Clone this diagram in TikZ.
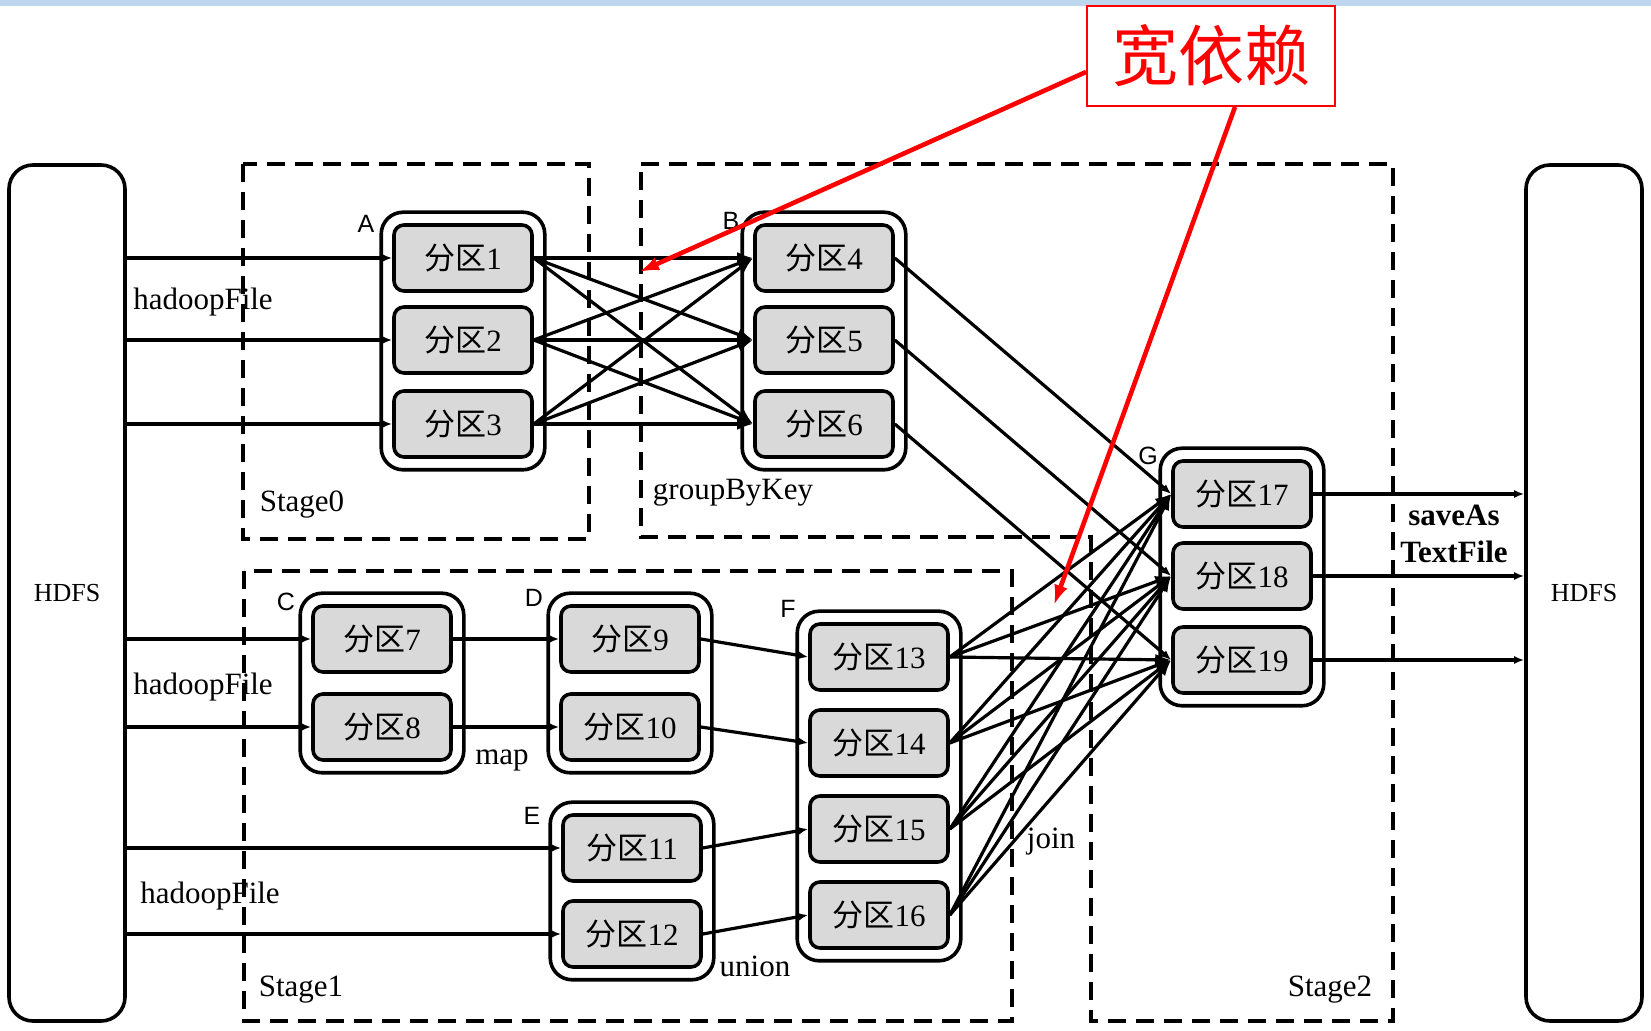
\documentclass[tikz,border=0pt]{standalone}
\usepackage{fontspec}
\setmainfont{Liberation Serif}
\newfontfamily\cjk{Noto Sans CJK SC}
\newfontfamily\lettre{Liberation Sans}
\usetikzlibrary{positioning,arrows.meta,fit,backgrounds}
\definecolor{grisPart}{HTML}{D9D9D9}
\definecolor{bleuBande}{HTML}{BDD7EE}
\definecolor{rougeVif}{HTML}{FF0000}
\newcommand{\fq}[1]{{\cjk 分区}#1}
\tikzset{
  partition/.style={
    draw, line width=1.8pt, rounded corners=5pt, fill=grisPart,
    minimum width=69pt, minimum height=33pt, inner sep=0pt,
    font=\fontsize{15.5}{18}\selectfont},
  rdd/.style={draw, line width=1.8pt, rounded corners=11pt, fill=white, inner sep=5.5pt},
  hdfs/.style={draw, line width=1.8pt, rounded corners=12pt,
    minimum width=58pt, minimum height=428pt, font=\fontsize{13}{15}\selectfont},
  stage/.style={draw, line width=1.9pt, dash pattern=on 9pt off 5pt},
  fleche/.style={-{Latex[length=5pt,width=4pt]}, line width=1.6pt},
  flecheLarge/.style={-{Latex[length=8pt,width=6pt]}, line width=1.6pt},
  alerte/.style={-{Latex[length=10pt,width=7pt]}, draw=rougeVif, line width=2.3pt},
  etiquette/.style={font=\fontsize{15.5}{18.5}\selectfont},
  lettreRdd/.style={font=\lettre\fontsize{12.5}{14}\selectfont}
}

\begin{document}
\begin{tikzpicture}[x=0.5pt, y=-0.5pt]
  \useasboundingbox (0,0) rectangle (1651,1031);
  \fill[bleuBande] (0,0) rectangle (1651,6);

  % --- HDFS des deux cotes
  \node[hdfs] (hdfsG) at (67,593)   {HDFS};
  \node[hdfs] (hdfsD) at (1584,593) {HDFS};

  % --- Stages (pointilles)
  \draw[stage] (243,164) rectangle (589,539);
  \draw[stage] (244,571) rectangle (1012,1021);
  \draw[stage] (641,164) -- (1393,164) -- (1393,1021) -- (1091,1021)
        -- (1091,537) -- (641,537) -- cycle;

  % --- Partitions
  \node[partition] (p1)  at (463,258) {\fq{1}};
  \node[partition] (p2)  at (463,340) {\fq{2}};
  \node[partition] (p3)  at (463,424) {\fq{3}};
  \node[partition] (p4)  at (824,258) {\fq{4}};
  \node[partition] (p5)  at (824,340) {\fq{5}};
  \node[partition] (p6)  at (824,424) {\fq{6}};
  \node[partition] (p7)  at (382,639) {\fq{7}};
  \node[partition] (p8)  at (382,727) {\fq{8}};
  \node[partition] (p9)  at (630,639) {\fq{9}};
  \node[partition] (p10) at (630,727) {\fq{10}};
  \node[partition] (p11) at (632,848) {\fq{11}};
  \node[partition] (p12) at (632,934) {\fq{12}};
  \node[partition] (p13) at (879,657) {\fq{13}};
  \node[partition] (p14) at (879,743) {\fq{14}};
  \node[partition] (p15) at (879,829) {\fq{15}};
  \node[partition] (p16) at (879,915) {\fq{16}};
  \node[partition] (p17) at (1242,494) {\fq{17}};
  \node[partition] (p18) at (1242,576) {\fq{18}};
  \node[partition] (p19) at (1242,660) {\fq{19}};

  % --- RDD englobants
  \begin{scope}[on background layer]
    \node[rdd, fit=(p1)(p3)]   (A) {};
    \node[rdd, fit=(p4)(p6)]   (B) {};
    \node[rdd, fit=(p7)(p8)]   (C) {};
    \node[rdd, fit=(p9)(p10)]  (D) {};
    \node[rdd, fit=(p11)(p12)] (E) {};
    \node[rdd, fit=(p13)(p16)] (F) {};
    \node[rdd, fit=(p17)(p19)] (G) {};
  \end{scope}
  \node[lettreRdd] (lA) at (366,224)  {A};
  \node[lettreRdd] (lB) at (731,221)  {B};
  \node[lettreRdd] (lC) at (286,602)  {C};
  \node[lettreRdd] (lD) at (534,598)  {D};
  \node[lettreRdd] (lE) at (532,816)  {E};
  \node[lettreRdd] (lF) at (788,609)  {F};
  \node[lettreRdd] (lG) at (1148,456) {G};

  % --- Lecture depuis HDFS
  \foreach \p in {p1,p2,p3,p7,p8,p11,p12}
    \draw[fleche] (hdfsG.east |- \p.west) -- (\p.west);

  % --- Dependances etroites
  \draw[fleche] (p7) -- (p9);
  \draw[fleche] (p8) -- (p10);
  \draw[fleche] (p9.east) -- (p13.west);
  \draw[fleche] (p10.east) -- (p14.west);
  \draw[fleche] (p11.east) -- (p15.west);
  \draw[fleche] (p12.east) -- (p16.west);
  \draw[fleche] (p4.east) -- (p17.west);
  \draw[fleche] (p5.east) -- (p18.west);
  \draw[fleche] (p6.east) -- (p19.west);

  % --- Dependances larges
  \foreach \s in {p1,p2,p3}
    \foreach \t in {p4,p5,p6}
      \draw[flecheLarge] (\s.east) -- (\t.west);
  \foreach \s in {p13,p14,p15,p16}
    \foreach \t in {p17,p18,p19}
      \draw[flecheLarge] (\s.east) -- (\t.west);

  % --- Ecriture vers HDFS
  \foreach \p in {p17,p18,p19}
    \draw[fleche] (\p.east) -- (hdfsD.west |- \p.east);

  % --- Etiquettes
  \node[etiquette] (hf1) at (203,302) {hadoopFile};
  \node[etiquette] (hf2) at (203,687) {hadoopFile};
  \node[etiquette] (hf3) at (210,896) {hadoopFile};
  \node[etiquette] (s0)  at (302,505) {Stage0};
  \node[etiquette] (s1)  at (301,990) {Stage1};
  \node[etiquette] (s2)  at (1330,990) {Stage2};
  \node[etiquette] (gbk) at (733,493) {groupByKey};
  \node[etiquette] (mp)  at (502,760) {map};
  \node[etiquette] (un)  at (755,966) {union};
  \node[etiquette] (jn)  at (1051,842) {join};
  \node[etiquette, align=center] (sv) at (1454,534) {\textbf{saveAs}\\\textbf{TextFile}};

  % --- Annotation
  \node[draw=rougeVif, line width=1pt, minimum width=124pt, minimum height=50pt,
        text=rougeVif, font=\cjk\fontsize{33}{36}\selectfont] (kuan) at (1211,56) {宽依赖};
  \coordinate (cibleAB) at (639,272);
  \coordinate (cibleFG) at (1054,605);
  \draw[alerte] ([yshift=-8pt]kuan.west) -- (cibleAB);
  \draw[alerte] ([xshift=12pt]kuan.south) -- (cibleFG);

\end{tikzpicture}
\end{document}
